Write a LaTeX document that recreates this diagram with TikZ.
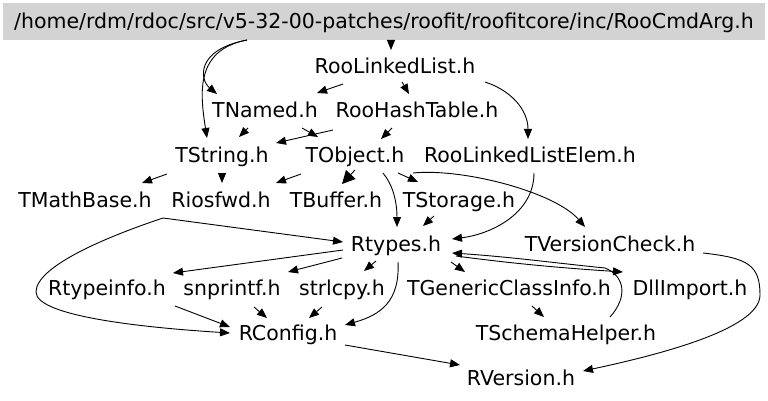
\documentclass[tikz,border=0pt]{standalone}
\usepackage{fontspec}
\setmainfont{DejaVu Sans}
\usetikzlibrary{arrows.meta,calc}
\definecolor{rootfill}{RGB}{211,211,211}
\begin{document}
\begin{tikzpicture}[x=1pt,y=-1pt,
  lbl/.style={inner sep=0pt,text height=14.6pt,text depth=0pt,font=\fontsize{20.5}{24}\selectfont},
  edge/.style={line width=0.9pt,-{Triangle[length=10pt,width=8pt]}},
  bigtip/.style={-{Triangle[length=13pt,width=13pt]}}]
\useasboundingbox (0,0) rectangle (768,401);
\node[lbl,fill=rootfill,minimum width=762pt,minimum height=37pt] (root) at (384,21.5) {/home/rdm/rdoc/src/v5-32-00-patches/roofit/roofitcore/inc/RooCmdArg.h};
\node[lbl] (RLL) at (395,66) {RooLinkedList.h};
\node[lbl] (TNamed) at (265,110) {TNamed.h};
\node[lbl] (RHT) at (417,110) {RooHashTable.h};
\node[lbl] (TString) at (222,155) {TString.h};
\node[lbl] (TObject) at (355,155) {TObject.h};
\node[lbl] (RLLE) at (530,155) {RooLinkedListElem.h};
\node[lbl] (TMathBase) at (85,200) {TMathBase.h};
\node[lbl] (Riosfwd) at (221,200) {Riosfwd.h};
\node[lbl] (TBuffer) at (336,200) {TBuffer.h};
\node[lbl] (TStorage) at (459,200) {TStorage.h};
\node[lbl] (Rtypes) at (396,244) {Rtypes.h};
\node[lbl] (TVC) at (610,244) {TVersionCheck.h};
\node[lbl] (Rtypeinfo) at (107,288) {Rtypeinfo.h};
\node[lbl] (snprintf) at (232,288) {snprintf.h};
\node[lbl] (strlcpy) at (342,288) {strlcpy.h};
\node[lbl] (TGCI) at (509,288) {TGenericClassInfo.h};
\node[lbl] (DllImport) at (690,288) {DllImport.h};
\node[lbl] (RConfig) at (288,333) {RConfig.h};
\node[lbl] (TSH) at (566,333) {TSchemaHelper.h};
\node[lbl] (RVersion) at (521,378) {RVersion.h};

\draw[edge] ($(root)+(-137,18.5)$) .. controls +(-52,10) and +(-7,-45) .. ($(TString)+(-15,-17)$);
\draw[edge] ($(root)+(-137,18.5)$) .. controls +(-52,10) and +(-17,-14) .. ($(TNamed)+(-48,-16)$);
\draw[edge] ($(root)+(7,18.5)$) -- ($(RLL)+(-4,-16)$);
\draw[edge] ($(RLL)+(-52,18)$) -- ($(TNamed)+(52,-17)$);
\draw[edge] ($(RLL)+(7,16)$) -- ($(RHT)+(-8,-16)$);
\draw[edge] ($(RLL)+(90,16)$) .. controls +(25,8) and +(0,-30) .. ($(RLLE)+(-2,-16)$);
\draw[edge] ($(TNamed)+(-17,18)$) -- ($(TString)+(17,-18)$);
\draw[edge] ($(TNamed)+(37,18)$) -- ($(TObject)+(-37,-18)$);
\draw[edge] ($(RHT)+(-84,20)$) -- ($(TString)+(54,-12)$);
\draw[edge] ($(RHT)+(-25,18)$) -- ($(TObject)+(26,-16)$);
\draw[edge] ($(TString)+(-55,19)$) -- ($(TMathBase)+(57,-17)$);
\draw[edge] ($(TString)+(0,18)$) -- ($(Riosfwd)+(1,-17)$);
\draw[edge] ($(TObject)+(-54,19)$) -- ($(Riosfwd)+(55,-17)$);
\draw[edge,bigtip] ($(TObject)+(0,15)$) -- ($(TBuffer)+(6,-16)$);
\draw[edge] ($(TObject)+(28,18)$) .. controls +(10,12) and +(0,-25) .. ($(Rtypes)+(1,-17)$);
\draw[edge] ($(TObject)+(43,18)$) -- ($(TStorage)+(-41,-18)$);
\draw[edge] ($(TObject)+(58,18)$) .. controls +(50,-5) and +(-30,-35) .. ($(TVC)+(-25,-17)$);
\draw[edge] ($(RLLE)+(4,18)$) .. controls +(0,40) and +(40,-5) .. ($(Rtypes)+(56,-5)$);
\draw[edge] ($(TStorage)+(-25,16)$) -- ($(Rtypes)+(27,-18)$);
\draw[edge] ($(TMathBase)+(78,18)$) -- ($(Rtypes)+(-53,-2)$);
\draw[edge] ($(TMathBase)+(78,18)$) .. controls +(-60,20) and +(0,-25) .. ($(TMathBase)+(-49,92)$) .. controls +(0,25) and +(-80,-5) .. ($(RConfig)+(-58,0)$);
\draw[edge] ($(Rtypes)+(-53,6)$) -- ($(Rtypeinfo)+(66,-15)$);
\draw[edge] ($(Rtypes)+(-54,14)$) -- ($(snprintf)+(56,-16)$);
\draw[edge] ($(Rtypes)+(-20,17)$) -- ($(strlcpy)+(22,-17)$);
\draw[edge] ($(Rtypes)+(2,18)$) .. controls +(2,40) and +(35,-10) .. ($(RConfig)+(57,-8)$);
\draw[edge] ($(Rtypes)+(55,18)$) -- ($(TGCI)+(-44,-16)$);
\draw[edge] ($(Rtypes)+(60,12)$) .. controls +(60,8) and +(-60,-4) .. ($(DllImport)+(-67,-16)$);
\draw[edge] ($(TSH)+(44,-16)$) .. controls +(18,-20) and +(20,8) .. ($(DllImport)+(-85,-20)$) .. controls +(-50,-5) and +(60,4) .. ($(Rtypes)+(56,9)$);
\draw[edge] ($(TGCI)+(23,18)$) -- ($(TSH)+(-22,-16)$);
\draw[edge] ($(Rtypeinfo)+(68,18)$) -- ($(RConfig)+(-58,-6)$);
\draw[edge] ($(snprintf)+(22,19)$) -- ($(RConfig)+(-21,-15)$);
\draw[edge] ($(strlcpy)+(-20,19)$) -- ($(RConfig)+(21,-15)$);
\draw[edge] ($(RConfig)+(57,12)$) -- ($(RVersion)+(-61,-13)$);
\draw[edge] ($(TVC)+(93,9)$) .. controls +(45,5) and +(0,-30) .. ($(TVC)+(150,51)$) .. controls +(0,35) and +(70,-15) .. ($(RVersion)+(62,-7)$);
\end{tikzpicture}
\end{document}
